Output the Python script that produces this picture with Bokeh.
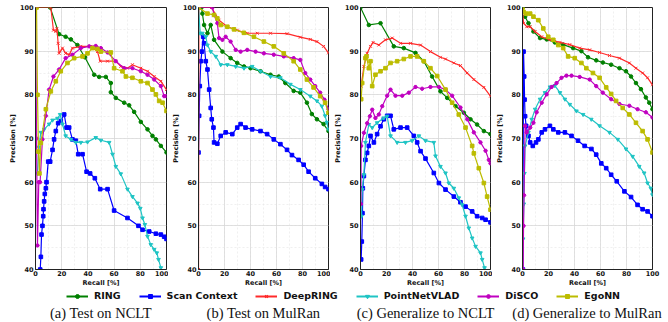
import math
from bokeh.plotting import figure
from bokeh.layouts import row, column
from bokeh.models import Range1d, Legend, LegendItem, FixedTicker
from bokeh.embed import file_html
from bokeh.resources import INLINE
from bokeh.core.properties import value

methods = ["RING", "Scan Context", "DeepRING", "PointNetVLAD", "DiSCO", "EgoNN"]
x_ticks = [0, 20, 40, 60, 80, 100]
y_ticks = [40, 50, 60, 70, 80, 90, 100]
captions = ["(a) Test on NCLT", "(b) Test on MulRan", "(c) Generalize to NCLT", "(d) Generalize to MulRan"]

# ---------------- (a) Test on NCLT ----------------
a_ring_r = [0, 11.2, 18, 23, 27, 32, 37.7, 44.8, 48.6, 53.7, 57.5, 57.5, 61.3, 67.7, 71.5, 75.3, 80.4, 85.5, 89.3, 91.9, 95.7, 100]
a_ring_p = [100, 100, 93.9, 93.3, 92.7, 91.4, 88.6, 84.6, 84.1, 84.1, 82.7, 80.6, 79.3, 78.2, 77.6, 76.1, 73.8, 72.1, 70.6, 69.8, 68.3, 66.8]
a_sc_r = [3.6, 4.1, 4.6, 5.3, 5.9, 6.1, 6.6, 7.1, 7.9, 8.4, 9.7, 11.2, 13, 14.2, 15.5, 17.3, 19.3, 21.9, 23.7, 25.7, 28.2, 30.8, 32.6, 35.9, 39, 41.7, 45.3, 49.4, 55, 60, 70.2, 78.6, 81.7, 86.8, 91.9, 95.7, 98.2, 100]
a_sc_p = [40, 42.9, 48, 50, 52.2, 53.8, 55.6, 57.3, 58.6, 60, 64.7, 64.7, 67.4, 69.8, 71.7, 73.5, 74, 75.5, 72.5, 72.5, 69.8, 69.5, 66.4, 66.4, 62.4, 62, 60.9, 58.4, 58.4, 53.5, 51.8, 50, 49.1, 48.7, 48.2, 48, 47.5, 47]
a_dr_r = [0, 11.7, 13.7, 15.5, 16.3, 17.3, 18, 20.6, 23, 25.7, 28.2, 34.6, 42.2, 47.3, 49.4, 55, 61.3, 65.1, 70.2, 74, 80.4, 85.5, 90.6, 95.7, 100]
a_dr_p = [100, 100, 94.8, 94.5, 95.2, 91.8, 89.5, 90.7, 89.5, 89.2, 90.7, 91.1, 91.1, 89.9, 87.7, 87.7, 87.7, 86.5, 86.1, 86.9, 86.1, 85.4, 84.2, 83.1, 81.2]
a_pn_r = [1.5, 2.5, 4.1, 6.6, 10.4, 13, 16.8, 18.8, 20.6, 23, 27, 30.8, 34.6, 39.7, 46, 49.9, 56.2, 58.8, 61.3, 65.1, 70.2, 74, 77.9, 80, 81.7, 83.5, 85.5, 88, 90.6, 92.6, 93.9, 95.7]
a_pn_p = [62, 68, 71.4, 72.1, 73.3, 74.2, 74.6, 75.5, 73.3, 70.6, 69.8, 69.1, 69.1, 69.2, 70.2, 69.6, 69.1, 66.4, 63.6, 61.9, 58.4, 56.7, 55.2, 54, 51.8, 50.3, 47.6, 45.7, 44.6, 43.8, 42.3, 40.4]
a_di_r = [0, 0.8, 1.5, 2.5, 3.5, 5.3, 7.9, 10.4, 13.7, 18, 23, 28.2, 34.6, 41, 46, 49.9, 55, 61.3, 67.7, 74, 80.4, 85.5, 90.6, 95.7, 98.2, 100]
a_di_p = [100, 70, 45.5, 60, 60, 69.8, 75.2, 81.2, 84.2, 85.8, 88.4, 89.2, 90.7, 91.1, 91.2, 90.7, 89.7, 87.7, 86.1, 86.1, 85.4, 84.6, 83.5, 82, 79.7, 79.7]
a_eg_r = [0.8, 1.5, 2.3, 3, 4.1, 7.9, 11.7, 15.5, 19.3, 24.4, 29.5, 35.9, 39.7, 43.5, 47.3, 49.9, 57.5, 60, 66.4, 69, 74, 80.4, 85.5, 89.3, 91.9, 94.4, 97, 100]
a_eg_p = [100, 80, 67, 62, 69, 76.7, 80.8, 83.1, 85.4, 87.3, 88.4, 88.8, 89.5, 90.7, 90.5, 89.9, 89.7, 86.1, 85.4, 84.2, 83.9, 83.1, 82.7, 81.2, 80.1, 78.6, 78.2, 76.3]

# ---------------- (b) Test on MulRan ----------------
b_ring_r = [0, 2.3, 3, 4.3, 6.9, 9.4, 12, 18.4, 24.7, 29.8, 35, 40, 47.7, 55.4, 61.7, 66.8, 73.2, 78.3, 83.4, 87.2, 91.1, 96.2, 100]
b_ring_p = [100, 100, 98.6, 96, 94.1, 96, 92.6, 89.9, 88.4, 87.3, 86.5, 86.1, 85.4, 84.6, 84.2, 82.7, 80.9, 80.5, 78.2, 75.6, 74.4, 73.3, 71.7]
b_sc_r = [0, 0.5, 1, 1.8, 2.6, 3.6, 4.3, 5.6, 6.9, 8.2, 9.4, 10.2, 11.5, 12, 14.5, 17.1, 20.9, 26, 29.8, 32.4, 36.2, 41.3, 47.7, 52.8, 57.9, 63, 68.1, 71.9, 77, 80.9, 84.7, 89.8, 94.9, 97.4, 100]
b_sc_p = [66.8, 75.2, 82, 87.7, 89.9, 93.3, 91.8, 87.7, 85.8, 81.2, 77, 74.4, 72.5, 69.1, 68.8, 70.6, 71.4, 71, 72.5, 73.3, 72.5, 72.1, 71.7, 71, 69.8, 68.7, 67.4, 66.2, 65.1, 64, 62.4, 60.9, 59.6, 58.9, 58.4]
b_dr_r = [0, 0.3, 10, 15.8, 22.2, 29.8, 37.5, 45.2, 55.4, 68.1, 78.3, 86, 91.1, 96.2, 100]
b_dr_p = [40, 100, 100, 97.1, 95.6, 94.8, 94.1, 94.1, 94.1, 94, 93.2, 92.7, 92.2, 91.1, 89.6]
b_pn_r = [0, 1.3, 3, 5.6, 6.9, 9.4, 13.3, 17.1, 22.2, 28.6, 35, 41.3, 47.7, 55.4, 63, 70.7, 78.3, 86, 91.1, 94.9, 97.4, 98.7, 100]
b_pn_p = [100, 94.1, 94.1, 93.3, 91.4, 89.9, 88.8, 86.9, 86.9, 86.5, 86.1, 86.5, 85.4, 84.2, 83.9, 82.4, 81.2, 79.7, 78.6, 77.4, 75.2, 73.7, 72.1]
b_di_r = [0, 10.7, 12, 14.5, 15.8, 18.4, 20.9, 24.7, 28.6, 32.4, 37.5, 43.9, 50.3, 57.9, 65.6, 73.2, 78.3, 82.1, 86, 89.8, 93.6, 96.9, 100]
b_di_p = [100, 100, 98.3, 96.4, 93, 92.6, 93.3, 92.2, 90.3, 89.9, 90.3, 89.9, 89.5, 89.2, 88.8, 88.4, 88, 85, 83.5, 82, 80.5, 78.9, 76.7]
b_eg_r = [0, 6.9, 12, 14.5, 17.1, 22.2, 27.3, 34.9, 42.6, 50.3, 57.9, 65.6, 73.2, 78.3, 83.4, 88.5, 93.6, 97.4, 100]
b_eg_p = [100, 98.6, 98.3, 97.5, 96, 95.6, 95, 94.2, 93.3, 92.2, 91.1, 89.5, 87.7, 85.8, 83.5, 81.7, 79.7, 78.2, 75.9]

# ---------------- (c) Generalize to NCLT ----------------
c_ring_r = [0, 6.4, 15.4, 25.6, 33.3, 42.3, 48.7, 55.1, 61.5, 66.7, 73.1, 79.5, 84.6, 89.7, 94.9, 100]
c_ring_p = [100, 96, 96.4, 91.1, 90.7, 89.6, 87.7, 84.2, 80.8, 79.3, 77.4, 75.9, 74.4, 73.2, 71.7, 71]
c_sc_r = [0.5, 1, 1.5, 1.8, 2.6, 3.8, 5.1, 6.4, 7.7, 10.3, 12.8, 15.4, 17.9, 20.5, 23.1, 25.6, 30.8, 35.9, 41, 43.6, 46.2, 50, 56.4, 60.3, 65.4, 71.8, 76.9, 80.8, 85.9, 89.7, 93.6, 96.2, 100]
c_sc_p = [42.3, 46.4, 52.9, 58.6, 61.4, 65.1, 66.7, 68.3, 70.6, 69.1, 71, 72.8, 74.4, 75.2, 75.2, 72.1, 72.5, 72.5, 70.6, 69.1, 67.1, 65.4, 62.1, 59.8, 58.3, 56.7, 55.4, 54.4, 53.3, 52.2, 51.8, 51.4, 50.8]
c_dr_r = [0.5, 2.6, 5.1, 7.7, 9.7, 14.1, 19.2, 24.4, 30.8, 38.5, 46.2, 53.8, 61.5, 65.4, 71.8, 76.9, 82, 87.2, 94.9, 100]
c_dr_p = [82, 86.5, 89.5, 91.1, 92, 91.4, 92.6, 93, 91.8, 91.8, 91.4, 89.9, 88.6, 88.2, 87.3, 86.7, 85, 83.5, 81.7, 79.7]
c_pn_r = [0.8, 1.3, 2.6, 3.8, 6.4, 9, 12.8, 17.9, 20.5, 23.1, 28.2, 34.6, 39.7, 44.9, 50, 56.4, 57.7, 61.5, 65.4, 67.9, 71.8, 75.6, 78.2, 80.8, 83.3, 85.9, 88.5, 92.3, 93.6, 95.4]
c_pn_p = [52.2, 58.3, 61.7, 69.1, 73.2, 72.5, 73.6, 74.7, 75.1, 70.6, 69.1, 69.1, 69.5, 70.6, 69.5, 69.1, 66, 63.6, 62.1, 59.8, 58.6, 56.4, 54.8, 52.2, 49.5, 47.2, 45.3, 43.8, 42.3, 40.4]
c_di_r = [0.3, 0.5, 2.6, 5.1, 7.2, 9, 11.5, 14.1, 16.7, 20.5, 23.1, 26.9, 32.1, 37.2, 42.3, 47.4, 53.8, 60.3, 65.4, 70.5, 76.9, 82.1, 87.2, 92.3, 96.2, 98.7, 100]
c_di_p = [55, 68.3, 71.3, 73.5, 75.1, 76.6, 74.7, 75.5, 77.4, 79.8, 81.2, 79.8, 79.8, 80.5, 81.8, 81.4, 81.8, 81.8, 81.2, 79.8, 77.1, 74.4, 71.4, 69.1, 67.2, 65.1, 64.3]
c_eg_r = [0.5, 1.3, 3.8, 4.6, 6.4, 7.7, 9, 11.5, 15.4, 19.2, 23.1, 28.2, 33.3, 38.5, 43.6, 48.7, 53.8, 59, 65.4, 70.5, 75.6, 80.8, 85.9, 87.2, 91, 94.9, 97.4, 100]
c_eg_p = [79, 82.7, 88.4, 88.8, 86.1, 87.7, 82, 84.6, 85.4, 86.1, 87.3, 87.7, 88.2, 88.8, 88.8, 87.7, 86.1, 84.3, 81.2, 78.2, 75.5, 72.5, 68.3, 66.6, 63.2, 59.8, 56.7, 53.7]

# ---------------- (d) Generalize to MulRan ----------------
d_ring_r = [0, 2, 4.6, 8.4, 13.5, 18.6, 24.9, 31.3, 38.9, 45.3, 50.4, 56.7, 61.8, 68.2, 74.6, 79.6, 83.5, 87.3, 91.1, 94.9, 97.5, 100]
d_ring_p = [100, 97.9, 96.4, 94.5, 93, 92.7, 92, 91.5, 90.7, 90, 88.6, 87.9, 87.4, 86.9, 86.1, 85.4, 84.2, 82.7, 81.3, 79.4, 78.2, 76.7]
d_sc_r = [0.3, 0.8, 1.3, 1.6, 2, 2.8, 4.6, 5.9, 7.9, 10.4, 12.2, 14.8, 17.3, 21.1, 23.7, 27.5, 32.6, 37.7, 42.7, 47.8, 53, 56.7, 60.6, 64.4, 68.2, 72.5, 78.4, 83.5, 88.5, 92.4, 96.2, 100]
d_sc_p = [40, 89.9, 84.2, 78.9, 75.1, 72.9, 70.6, 69.1, 68.3, 69.1, 69.8, 71.4, 72.1, 72.9, 72.1, 71.4, 71.4, 70.6, 69.5, 68.3, 67.6, 66.3, 64.3, 63.2, 61.7, 60.2, 57.9, 56.6, 54.8, 53.8, 53.3, 52.2]
d_dr_r = [0, 0.8, 3.3, 5.9, 9.7, 14.8, 21.1, 28.8, 36.4, 44, 51.7, 59.3, 66.9, 74.6, 82.2, 87.3, 92.4, 96.2, 100]
d_dr_p = [99.4, 96.4, 95.6, 95.6, 94.5, 93.3, 92.6, 92, 91.5, 90.7, 90.3, 89.7, 89, 88.4, 87.3, 86.1, 85, 83.9, 82.3]
d_pn_r = [0.5, 1, 1.5, 2, 4.6, 7.1, 9.7, 13.5, 17.3, 21.1, 24.9, 28.8, 32.6, 36.4, 41.5, 46.6, 52.9, 59.3, 66.9, 73.3, 79.6, 84.7, 89.8, 93.6, 96.2, 98.7, 100]
d_pn_p = [47, 55, 62, 68.3, 71.4, 74.4, 76.7, 79, 80.5, 81.8, 82.1, 80.5, 79, 77.8, 76.3, 75.5, 74.4, 72.9, 71.4, 69.8, 67.6, 65.9, 63.6, 62.1, 59.8, 58.6, 57.1]
d_di_r = [0.5, 0.8, 1.2, 2, 3.3, 5.9, 8.4, 10.9, 14.8, 18.6, 22.4, 26.2, 30, 33.8, 37.7, 44, 51.7, 56.7, 61.8, 68.2, 74.6, 82.2, 88.5, 94.9, 100]
d_di_p = [40, 50, 57, 72.9, 71.4, 72.5, 73.6, 76, 78.2, 80.1, 81.8, 82.7, 83.9, 84.4, 84.4, 84.1, 83.5, 82, 80.5, 79, 77.9, 77.5, 76.7, 76, 74.8]
d_eg_r = [0, 0.8, 2.8, 5.9, 8.4, 12.2, 16, 19.8, 23.7, 27.5, 31.3, 35.1, 40.2, 45.3, 49.1, 54.2, 59.3, 64.4, 68.2, 72, 77.1, 82.2, 87.3, 92.4, 96.2, 100]
d_eg_p = [100, 99, 98.6, 98.6, 97.9, 97.1, 95.2, 93.3, 92.6, 91.4, 90.7, 88.8, 88.4, 87.3, 86.1, 85, 83.9, 81.7, 80.2, 78.6, 77, 75.5, 73.6, 71.7, 69.8, 66.8]

panels = [
    {"RING": (a_ring_r, a_ring_p), "Scan Context": (a_sc_r, a_sc_p), "DeepRING": (a_dr_r, a_dr_p),
     "PointNetVLAD": (a_pn_r, a_pn_p), "DiSCO": (a_di_r, a_di_p), "EgoNN": (a_eg_r, a_eg_p)},
    {"RING": (b_ring_r, b_ring_p), "Scan Context": (b_sc_r, b_sc_p), "DeepRING": (b_dr_r, b_dr_p),
     "PointNetVLAD": (b_pn_r, b_pn_p), "DiSCO": (b_di_r, b_di_p), "EgoNN": (b_eg_r, b_eg_p)},
    {"RING": (c_ring_r, c_ring_p), "Scan Context": (c_sc_r, c_sc_p), "DeepRING": (c_dr_r, c_dr_p),
     "PointNetVLAD": (c_pn_r, c_pn_p), "DiSCO": (c_di_r, c_di_p), "EgoNN": (c_eg_r, c_eg_p)},
    {"RING": (d_ring_r, d_ring_p), "Scan Context": (d_sc_r, d_sc_p), "DeepRING": (d_dr_r, d_dr_p),
     "PointNetVLAD": (d_pn_r, d_pn_p), "DiSCO": (d_di_r, d_di_p), "EgoNN": (d_eg_r, d_eg_p)},
]

STYLE = {
    "RING": dict(color="#008000", marker="circle"),
    "Scan Context": dict(color="#0000ff", marker="square"),
    "DeepRING": dict(color="#ff2a2a", marker="x"),
    "PointNetVLAD": dict(color="#1fc4c4", marker="inverted_triangle"),
    "DiSCO": dict(color="#c000c0", marker="hex"),
    "EgoNN": dict(color="#bcbc00", marker="square"),
}

FIG_W = [168, 162, 162, 176]
LEFT_B = [35, 30, 30, 29]
RIGHT_B = [2, 2, 2, 16]
FIG_H = 289
TOP_B = 7
BOT_B = 18
FONT = "DejaVu Sans"


def add_series(p, name, r, pr):
    st = STYLE[name]
    p.line(r, pr, line_color=st["color"], line_width=1.2)
    if st["marker"] == "x":
        p.scatter(r, pr, marker="x", size=4, line_color=st["color"], line_width=1)
    else:
        p.scatter(r, pr, marker=st["marker"], size=3.6, fill_color=st["color"], line_color=st["color"])


def make_panel(i):
    p = figure(width=FIG_W[i], height=FIG_H, x_range=Range1d(0, 100), y_range=Range1d(40, 100),
               output_backend="svg", toolbar_location=None,
               min_border_left=LEFT_B[i], min_border_right=RIGHT_B[i],
               min_border_top=TOP_B, min_border_bottom=BOT_B)
    p.xaxis.ticker = FixedTicker(ticks=x_ticks, minor_ticks=list(range(0, 101, 10)))
    p.yaxis.ticker = FixedTicker(ticks=y_ticks, minor_ticks=list(range(40, 101, 5)))
    p.xaxis.axis_label = "Recall [%]"
    p.yaxis.axis_label = "Precision [%]"
    for ax in (p.xaxis, p.yaxis):
        ax.axis_label_text_font = FONT
        ax.axis_label_text_font_size = "6.5px"
        ax.axis_label_text_font_style = "bold"
        ax.axis_label_text_color = "#111111"
        ax.axis_label_standoff = 0
        ax.major_label_text_font = FONT
        ax.major_label_text_font_size = "6.5px"
        ax.major_label_text_font_style = "bold"
        ax.major_label_text_color = "#111111"
        ax.major_label_standoff = 2
        ax.major_tick_in = 0
        ax.major_tick_out = 0
        ax.minor_tick_in = 0
        ax.minor_tick_out = 0
        ax.axis_line_color = "#222222"
    p.xaxis.major_label_standoff = 1
    p.outline_line_color = "#222222"
    p.outline_line_width = 1
    p.grid.grid_line_color = "#d4d4d4"
    p.grid.grid_line_width = 0.7
    p.grid.minor_grid_line_color = "#e6e6e6"
    p.grid.minor_grid_line_width = 0.6
    p.grid.minor_grid_line_dash = "2 2"
    for m in methods:
        r, pr = panels[i][m]
        add_series(p, m, r, pr)
    return p


figs = [make_panel(i) for i in range(4)]

# footer with legend and captions
total_w = sum(FIG_W)
FOOT_H = 33
foot = figure(width=total_w, height=FOOT_H, x_range=Range1d(0, total_w), y_range=Range1d(0, FOOT_H),
              output_backend="svg", toolbar_location=None, min_border=0,
              x_axis_location=None, y_axis_location=None)
foot.grid.visible = False
foot.outline_line_color = None

items = []
for m in methods:
    st = STYLE[m]
    lr = foot.line([math.nan], [math.nan], line_color=st["color"], line_width=2)
    if st["marker"] == "x":
        sr = foot.scatter([math.nan], [math.nan], marker="x", size=6, line_color=st["color"], line_width=1.2)
    else:
        sr = foot.scatter([math.nan], [math.nan], marker=st["marker"], size=5,
                          fill_color=st["color"], line_color=st["color"])
    items.append(LegendItem(label=m, renderers=[lr, sr]))

leg = Legend(items=items, orientation="horizontal", location=(66, 21),
             glyph_width=22, glyph_height=10, label_height=10, label_width=10,
             label_standoff=6, spacing=18, padding=0, margin=0,
             label_text_font=FONT, label_text_font_size="9.5px", label_text_font_style="bold",
             label_text_color="#111111",
             border_line_alpha=0, background_fill_alpha=0)
foot.add_layout(leg)

cap_x = []
off = 0
for i in range(4):
    frame_w = FIG_W[i] - LEFT_B[i] - RIGHT_B[i]
    cap_x.append(off + LEFT_B[i] + frame_w / 2)
    off += FIG_W[i]
foot.text(x=cap_x, y=[10] * 4, text=captions, text_font=value("Liberation Serif"),
          text_font_size="14.5px", text_align="center", text_baseline="middle", text_color="#111111")

layout = column(row(*figs), foot)
open("out.html", "w").write(file_html(layout, INLINE))
